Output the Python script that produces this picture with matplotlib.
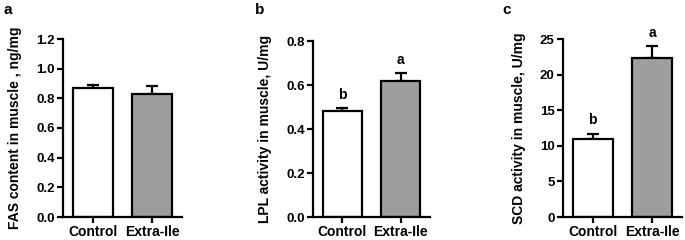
import matplotlib
matplotlib.use("Agg")
from matplotlib import pyplot as plt

plt.rcParams['font.family'] = ['Liberation Sans', 'DejaVu Sans']
plt.rcParams['font.weight'] = 'bold'

groups = ["Control", "Extra-Ile"]
fas_mean = [0.87, 0.83]
fas_err = [0.02, 0.05]
lpl_mean = [0.48, 0.62]
lpl_err = [0.015, 0.035]
scd_mean = [10.9, 22.3]
scd_err = [0.8, 1.7]
lpl_letters = ["b", "a"]
scd_letters = ["b", "a"]

panels = [
    ("a", fas_mean, fas_err, None, "FAS content in muscle , ng/mg",
     (0, 1.2), [0.0, 0.2, 0.4, 0.6, 0.8, 1.0, 1.2], "{:.1f}",
     [63, 39, 182, 217]),
    ("b", lpl_mean, lpl_err, lpl_letters, "LPL activity in muscle, U/mg",
     (0, 0.8), [0.0, 0.2, 0.4, 0.6, 0.8], "{:.1f}",
     [313, 41, 430, 217]),
    ("c", scd_mean, scd_err, scd_letters, "SCD activity in muscle, U/mg",
     (0, 25), [0, 5, 10, 15, 20, 25], "{:d}",
     [563, 39, 682, 217]),
]

W, H = 685, 240
fig = plt.figure(figsize=(W / 100, H / 100), dpi=100)

label_x = [3, 255, 502]

for i, (tag, mean, err, letters, ylabel, ylim, yticks, fmt, box) in enumerate(panels):
    x0, y0, x1, y1 = box
    ax = fig.add_axes([x0 / W, 1 - y1 / H, (x1 - x0) / W, (y1 - y0) / H])
    pos = [0, 1]
    ax.bar(pos, mean, width=0.67, color=["white", "#9e9e9e"],
           edgecolor="black", linewidth=1.6, zorder=2)
    ax.errorbar(pos, mean, yerr=[[0, 0], err], fmt="none", ecolor="black",
                elinewidth=1.6, capsize=4, capthick=1.6, zorder=1)
    if letters:
        for p, m, e, t in zip(pos, mean, err, letters):
            ax.text(p, m + e + (ylim[1] * 0.035), t, ha="center", va="bottom",
                    fontsize=10, fontweight="bold")
    ax.set_xlim(-0.5, 1.5)
    ax.set_ylim(*ylim)
    ax.set_yticks(yticks)
    ax.set_yticklabels([fmt.format(v) for v in yticks])
    ax.set_xticks(pos)
    ax.set_xticklabels(groups)
    ax.spines["top"].set_visible(False)
    ax.spines["right"].set_visible(False)
    ax.spines["left"].set_linewidth(1.6)
    ax.spines["bottom"].set_linewidth(1.6)
    ax.tick_params(axis="both", width=1.6, length=4, pad=2)
    ax.tick_params(axis="y", labelsize=9.5)
    ax.tick_params(axis="x", labelsize=10)
    ax.set_ylabel(ylabel, fontsize=10, fontweight="bold", labelpad=10)
    fig.text(label_x[i] / W, 1 - 10 / H, tag, fontsize=11, fontweight="bold",
             ha="left", va="center")

fig.savefig("out.png", dpi=100)
